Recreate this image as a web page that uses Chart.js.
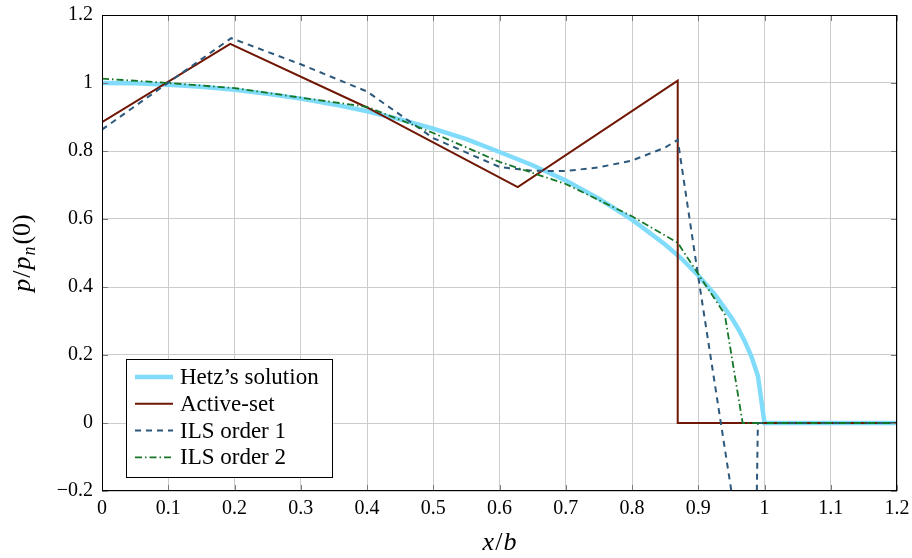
<!DOCTYPE html>
<html>
<head>
<meta charset="utf-8">
<script src="https://cdn.jsdelivr.net/npm/chart.js@4.4.1/dist/chart.umd.min.js"></script>
<style>
  html, body { margin: 0; padding: 0; background: #fff; }
  #wrap { width: 912px; height: 558px; }
</style>
</head>
<body>
<div id="wrap"><canvas id="chart" width="912" height="558"></canvas></div>
<script>
// x/b positions and normalised pressure p/p_n(0) for each curve
const hetzX = [0, 0.05, 0.1, 0.15, 0.2, 0.25, 0.3, 0.35, 0.4, 0.45, 0.5, 0.55, 0.6, 0.65, 0.7, 0.75, 0.8, 0.85, 0.875, 0.9, 0.925, 0.95, 0.96, 0.97, 0.98, 0.99, 1.0, 1.2];
const hetzY = [1.000, 0.999, 0.995, 0.989, 0.980, 0.968, 0.954, 0.937, 0.917, 0.893, 0.866, 0.835, 0.797, 0.758, 0.713, 0.660, 0.598, 0.525, 0.483, 0.434, 0.378, 0.310, 0.278, 0.241, 0.197, 0.139, 0, 0];

const activeX = [0, 0.1935, 0.4, 0.6275, 0.869, 0.869, 1.2];
const activeY = [0.885, 1.115, 0.928, 0.694, 1.007, 0, 0];

const ils1X = [0, 0.195, 0.3, 0.4, 0.5, 0.6, 0.65, 0.7, 0.75, 0.8, 0.85, 0.869, 0.9, 0.95, 0.985, 0.99, 1.2];
const ils1Y = [0.863, 1.132, 1.055, 0.975, 0.838, 0.753, 0.742, 0.741, 0.752, 0.772, 0.81, 0.833, 0.43, -0.2, -0.64, 0, 0];

const ils2X = [0, 0.1, 0.2, 0.3, 0.4, 0.5, 0.6, 0.7, 0.8, 0.869, 0.94, 0.967, 1.2];
const ils2Y = [1.013, 1.0, 0.985, 0.957, 0.93, 0.853, 0.768, 0.703, 0.608, 0.53, 0.32, 0, 0];

const seriesNames = ["Hetz\u2019s solution", "Active-set", "ILS order 1", "ILS order 2"];

const xTicks = [0, 0.1, 0.2, 0.3, 0.4, 0.5, 0.6, 0.7, 0.8, 0.9, 1, 1.1, 1.2];
const yTicks = [-0.2, 0, 0.2, 0.4, 0.6, 0.8, 1, 1.2];

const SERIF = "'Liberation Serif', 'Times New Roman', serif";

const toPoints = (xs, ys) => xs.map((x, i) => ({ x: x, y: ys[i] }));

// Draws the closed frame with small inward tick marks
const framePlugin = {
  id: "frame",
  afterDatasetsDraw(chart) {
    const { ctx, chartArea: a, scales } = chart;
    ctx.save();
    ctx.strokeStyle = "#7a7a7a";
    ctx.lineWidth = 1;
    ctx.beginPath();
    xTicks.forEach(v => {
      const px = Math.round(scales.x.getPixelForValue(v)) + 0.5;
      ctx.moveTo(px, a.bottom); ctx.lineTo(px, a.bottom - 6);
      ctx.moveTo(px, a.top); ctx.lineTo(px, a.top + 6);
    });
    yTicks.forEach(v => {
      const py = Math.round(scales.y.getPixelForValue(v)) + 0.5;
      ctx.moveTo(a.left, py); ctx.lineTo(a.left + 6, py);
      ctx.moveTo(a.right, py); ctx.lineTo(a.right - 6, py);
    });
    ctx.stroke();
    ctx.strokeStyle = "#000";
    ctx.strokeRect(Math.round(a.left) + 0.5, Math.round(a.top) + 0.5,
      Math.round(a.right - a.left) - 1, Math.round(a.bottom - a.top) - 1);
    ctx.restore();
  }
};

// Legend box in the lower left of the plot
const legendPlugin = {
  id: "boxLegend",
  afterDraw(chart) {
    const ctx = chart.ctx;
    const bx = 126.5, by = 359.5, bw = 206, bh = 118;
    ctx.save();
    ctx.fillStyle = "#fff";
    ctx.fillRect(bx, by, bw, bh);
    ctx.strokeStyle = "#000";
    ctx.lineWidth = 1;
    ctx.strokeRect(bx, by, bw, bh);
    const list = [0, 1, 2, 3].map(i => chart.data.datasets.find(d => d.label === seriesNames[i]));
    list.forEach((ds, i) => {
      const y = 377 + i * 26.8;
      ctx.beginPath();
      ctx.strokeStyle = ds.borderColor;
      ctx.lineWidth = ds.borderWidth;
      ctx.setLineDash(ds.borderDash || []);
      ctx.moveTo(135, y);
      ctx.lineTo(173, y);
      ctx.stroke();
      ctx.setLineDash([]);
      ctx.fillStyle = "#000";
      ctx.font = "23px " + SERIF;
      ctx.textBaseline = "middle";
      ctx.textAlign = "left";
      ctx.fillText(ds.label, 180, y + 1);
    });
    ctx.restore();
  }
};

// Axis titles with italic math symbols and a subscript
function drawRuns(ctx, runs, x, y) {
  let cx = x;
  runs.forEach(r => {
    ctx.font = r.font;
    ctx.fillText(r.t, cx, y + (r.dy || 0));
    cx += ctx.measureText(r.t).width + (r.gap || 0);
  });
}
function runsWidth(ctx, runs) {
  return runs.reduce((w, r) => { ctx.font = r.font; return w + ctx.measureText(r.t).width + (r.gap || 0); }, 0);
}
const titlePlugin = {
  id: "axisTitles",
  afterDraw(chart) {
    const { ctx, chartArea: a } = chart;
    const it = "italic 26px " + SERIF, up = "26px " + SERIF, sub = "italic 18px " + SERIF;
    ctx.save();
    ctx.fillStyle = "#000";
    ctx.textBaseline = "alphabetic";
    ctx.textAlign = "left";
    const xr = [{ t: "x", font: it, gap: 1 }, { t: "/", font: up, gap: 1 }, { t: "b", font: it }];
    const cx = (a.left + a.right) / 2;
    drawRuns(ctx, xr, cx - runsWidth(ctx, xr) / 2, 550);
    const yr = [{ t: "p", font: it, gap: 1 }, { t: "/", font: up, gap: 1 }, { t: "p", font: it, gap: 1 },
      { t: "n", font: sub, dy: 5, gap: 2 }, { t: "(0)", font: up }];
    ctx.translate(30, (a.top + a.bottom) / 2);
    ctx.rotate(-Math.PI / 2);
    drawRuns(ctx, yr, -runsWidth(ctx, yr) / 2, 0);
    ctx.restore();
  }
};

const fmt = v => {
  const s = String(Math.round(v * 10) / 10);
  return s.replace("-", "\u2212");
};

// keep the plot box fixed regardless of tick label overhang
const noScalePadding = s => {
  s.paddingTop = 0; s.paddingBottom = 0; s.paddingLeft = 0; s.paddingRight = 0;
};

new Chart(document.getElementById("chart"), {
  type: "line",
  data: {
    datasets: [
      {
        label: seriesNames[0], data: toPoints(hetzX, hetzY),
        borderColor: "rgb(128, 220, 250)", borderWidth: 4.5, order: 4
      },
      {
        label: seriesNames[1], data: toPoints(activeX, activeY),
        borderColor: "rgb(112, 22, 4)", borderWidth: 2, order: 3
      },
      {
        label: seriesNames[2], data: toPoints(ils1X, ils1Y),
        borderColor: "rgb(44, 88, 124)", borderWidth: 2, borderDash: [6, 5], order: 2
      },
      {
        label: seriesNames[3], data: toPoints(ils2X, ils2Y),
        borderColor: "rgb(22, 118, 40)", borderWidth: 1.8, borderDash: [7, 3, 1.5, 3], order: 1
      }
    ]
  },
  options: {
    responsive: false,
    animation: false,
    devicePixelRatio: 1,
    layout: { padding: { top: 15, right: 15, left: 0, bottom: 0 } },
    elements: {
      point: { radius: 0 },
      line: { tension: 0, fill: false, borderJoinStyle: "miter", borderCapStyle: "butt" }
    },
    plugins: { legend: { display: false }, tooltip: { enabled: false } },
    scales: {
      x: {
        type: "linear", min: 0, max: 1.2,
        afterFit: s => { s.height = 67; noScalePadding(s); },
        afterBuildTicks: s => { s.ticks = xTicks.map(v => ({ value: v })); },
        grid: { color: "#cccccc", lineWidth: 1, drawTicks: false },
        border: { display: false },
        ticks: { padding: 6, color: "#000", font: { family: SERIF, size: 20 }, callback: fmt, maxRotation: 0 }
      },
      y: {
        type: "linear", min: -0.2, max: 1.2,
        afterFit: s => { s.width = 102; noScalePadding(s); },
        afterBuildTicks: s => { s.ticks = yTicks.map(v => ({ value: v })); },
        grid: { color: "#cccccc", lineWidth: 1, drawTicks: false },
        border: { display: false },
        ticks: { padding: 9, color: "#000", font: { family: SERIF, size: 20 }, callback: fmt }
      }
    }
  },
  plugins: [framePlugin, legendPlugin, titlePlugin]
});
</script>
</body>
</html>
